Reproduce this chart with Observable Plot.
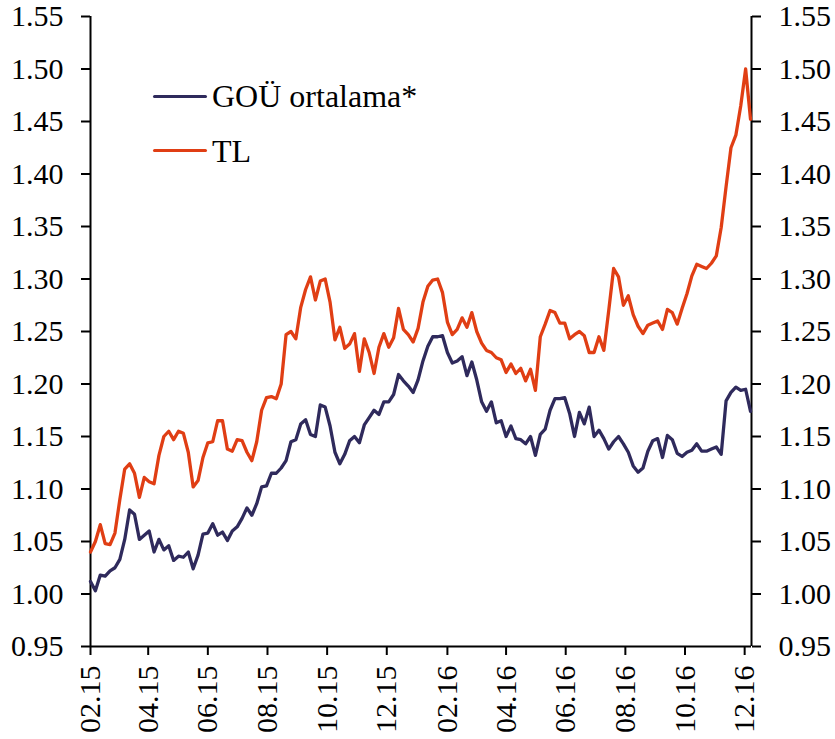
<!DOCTYPE html>
<html>
<head>
<meta charset="utf-8">
<script src="https://cdn.jsdelivr.net/npm/d3@7"></script>
<script src="https://cdn.jsdelivr.net/npm/@observablehq/plot@0.6"></script>
<style>
  body { margin: 0; background: #fff; }
  #wrap { position: relative; width: 835px; height: 739px; font-family: "Liberation Serif", serif; }
  .lg-line { position: absolute; height: 3px; width: 54px; border-radius: 1.5px; }
  .lg-text { position: absolute; font-size: 32px; line-height: 32px; color: #000; white-space: nowrap; }
</style>
</head>
<body>
<div id="wrap"></div>
<script>
const seriesNames = ["GOÜ ortalama*", "TL"];
const seriesColors = ["#2F2A5C", "#E03E14"];

const dates = [
"2015-02-01","2015-02-06","2015-02-11","2015-02-16","2015-02-21","2015-02-26","2015-03-03","2015-03-08","2015-03-13","2015-03-18",
"2015-03-23","2015-03-28","2015-04-02","2015-04-07","2015-04-12","2015-04-17","2015-04-22","2015-04-27","2015-05-02","2015-05-07",
"2015-05-12","2015-05-17","2015-05-22","2015-05-27","2015-06-01","2015-06-06","2015-06-11","2015-06-16","2015-06-21","2015-06-26",
"2015-07-01","2015-07-06","2015-07-11","2015-07-16","2015-07-21","2015-07-26","2015-07-31","2015-08-05","2015-08-10","2015-08-15",
"2015-08-20","2015-08-25","2015-08-30","2015-09-04","2015-09-09","2015-09-14","2015-09-19","2015-09-24","2015-09-29","2015-10-04",
"2015-10-09","2015-10-14","2015-10-19","2015-10-24","2015-10-29","2015-11-03","2015-11-08","2015-11-13","2015-11-18","2015-11-23",
"2015-11-28","2015-12-03","2015-12-08","2015-12-13","2015-12-18","2015-12-23","2015-12-28","2016-01-02","2016-01-07","2016-01-12",
"2016-01-17","2016-01-22","2016-01-27","2016-02-01","2016-02-06","2016-02-11","2016-02-16","2016-02-21","2016-02-26","2016-03-02",
"2016-03-07","2016-03-12","2016-03-17","2016-03-22","2016-03-27","2016-04-01","2016-04-06","2016-04-11","2016-04-16","2016-04-21",
"2016-04-26","2016-05-01","2016-05-06","2016-05-11","2016-05-16","2016-05-21","2016-05-26","2016-05-31","2016-06-05","2016-06-10",
"2016-06-15","2016-06-20","2016-06-25","2016-06-30","2016-07-05","2016-07-10","2016-07-15","2016-07-20","2016-07-25","2016-07-30",
"2016-08-04","2016-08-09","2016-08-14","2016-08-19","2016-08-24","2016-08-29","2016-09-03","2016-09-08","2016-09-13","2016-09-18",
"2016-09-23","2016-09-28","2016-10-03","2016-10-08","2016-10-13","2016-10-18","2016-10-23","2016-10-28","2016-11-02","2016-11-07",
"2016-11-12","2016-11-17","2016-11-22","2016-11-27","2016-12-02","2016-12-07"
];

const gouValues = [
1.012,1.003,1.018,1.017,1.022,1.025,1.033,1.052,1.080,1.076,
1.052,1.056,1.060,1.040,1.052,1.042,1.046,1.032,1.036,1.035,
1.040,1.024,1.037,1.057,1.058,1.067,1.056,1.059,1.051,1.060,
1.064,1.072,1.082,1.075,1.086,1.102,1.103,1.115,1.115,1.120,
1.127,1.145,1.147,1.162,1.166,1.152,1.150,1.180,1.178,1.160,
1.135,1.124,1.133,1.146,1.150,1.144,1.161,1.168,1.175,1.171,
1.183,1.183,1.190,1.209,1.203,1.198,1.192,1.204,1.222,1.236,
1.245,1.245,1.246,1.230,1.220,1.222,1.226,1.208,1.221,1.204,
1.183,1.174,1.183,1.163,1.165,1.150,1.160,1.148,1.147,1.143,
1.150,1.132,1.152,1.157,1.175,1.186,1.186,1.187,1.172,1.150,
1.173,1.162,1.178,1.150,1.156,1.148,1.138,1.145,1.150,1.143,
1.135,1.122,1.116,1.120,1.136,1.146,1.148,1.130,1.151,1.147,
1.134,1.131,1.135,1.137,1.143,1.136,1.136,1.138,1.140,1.133,
1.184,1.192,1.197,1.194,1.195,1.174
];

const tlValues = [
1.040,1.050,1.066,1.048,1.047,1.058,1.090,1.119,1.124,1.115,
1.092,1.111,1.107,1.105,1.132,1.150,1.155,1.147,1.155,1.153,
1.135,1.102,1.108,1.130,1.144,1.145,1.165,1.165,1.138,1.136,
1.147,1.146,1.135,1.127,1.145,1.175,1.187,1.188,1.186,1.200,
1.247,1.250,1.243,1.273,1.290,1.302,1.280,1.298,1.300,1.278,
1.242,1.254,1.234,1.238,1.248,1.212,1.243,1.230,1.210,1.235,
1.248,1.235,1.244,1.272,1.252,1.247,1.240,1.253,1.278,1.293,
1.299,1.300,1.287,1.259,1.247,1.252,1.263,1.254,1.268,1.250,
1.239,1.232,1.230,1.225,1.223,1.211,1.219,1.210,1.215,1.203,
1.214,1.194,1.245,1.257,1.270,1.268,1.258,1.258,1.243,1.247,
1.250,1.246,1.230,1.230,1.245,1.232,1.270,1.310,1.302,1.275,
1.284,1.266,1.255,1.248,1.256,1.258,1.260,1.252,1.271,1.268,
1.257,1.272,1.286,1.303,1.314,1.312,1.310,1.315,1.322,1.349,
1.388,1.425,1.437,1.465,1.500,1.452
];

const xTickDates = ["2015-02-01","2015-04-01","2015-06-01","2015-08-01","2015-10-01","2015-12-01",
                    "2016-02-01","2016-04-01","2016-06-01","2016-08-01","2016-10-01","2016-12-01"];
const xTickLabels = ["02.15","04.15","06.15","08.15","10.15","12.15","02.16","04.16","06.16","08.16","10.16","12.16"];
const yTicks = [0.95,1.00,1.05,1.10,1.15,1.20,1.25,1.30,1.35,1.40,1.45,1.50,1.55];
const xDomain = ["2015-02-01","2016-12-08"];
const yDomain = [0.95, 1.55];

const parse = d3.utcParse("%Y-%m-%d");
const rows = [];
dates.forEach((d, i) => {
  rows.push({date: parse(d), value: gouValues[i], series: seriesNames[0]});
});
dates.forEach((d, i) => {
  rows.push({date: parse(d), value: tlValues[i], series: seriesNames[1]});
});
const tickDates = xTickDates.map(parse);
const labelOf = new Map(tickDates.map((d, i) => [+d, xTickLabels[i]]));
const xd = xDomain.map(parse);

const chart = Plot.plot({
  width: 835,
  height: 739,
  marginLeft: 90,
  marginRight: 84,
  marginTop: 16,
  marginBottom: 93,
  style: {fontFamily: "Liberation Serif", fontSize: "30px", color: "#000", background: "#fff"},
  x: {type: "utc", domain: xd},
  y: {domain: yDomain},
  color: {domain: seriesNames, range: seriesColors},
  marks: [
    Plot.ruleY([yDomain[0]], {stroke: "#000", strokeWidth: 2}),
    Plot.ruleX([xd[0], xd[1]], {stroke: "#000", strokeWidth: 2}),
    Plot.axisY({anchor: "left", ticks: yTicks, tickFormat: d3.format(".2f"), tickSize: 9, tickPadding: 18, label: null, strokeWidth: 2}),
    Plot.axisY({anchor: "right", ticks: yTicks, tickFormat: d3.format(".2f"), tickSize: 9, tickPadding: 18, label: null, strokeWidth: 2}),
    Plot.axisX({anchor: "bottom", ticks: tickDates, tickFormat: d => labelOf.get(+d), tickSize: 9, tickPadding: 10, tickRotate: -90, label: null, strokeWidth: 2}),
    Plot.line(rows, {x: "date", y: "value", z: "series", stroke: "series", strokeWidth: 3.3, strokeLinejoin: "round", strokeLinecap: "round"})
  ]
});

const wrap = document.getElementById("wrap");
wrap.appendChild(chart);

// Legend inside the plot area
const legendRows = [
  {lineTop: 95.2, textTop: 80},
  {lineTop: 148.8, textTop: 134.5}
];
seriesNames.forEach((name, i) => {
  const ln = document.createElement("div");
  ln.className = "lg-line";
  ln.style.left = "153px";
  ln.style.top = legendRows[i].lineTop + "px";
  ln.style.background = seriesColors[i];
  wrap.appendChild(ln);
  const tx = document.createElement("div");
  tx.className = "lg-text";
  tx.style.left = "212px";
  tx.style.top = legendRows[i].textTop + "px";
  tx.textContent = name;
  wrap.appendChild(tx);
});
</script>
</body>
</html>
